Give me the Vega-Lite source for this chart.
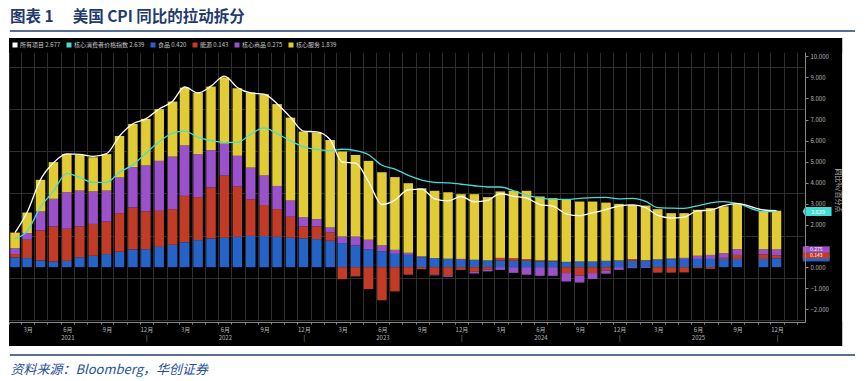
{
  "$schema": "https://vega.github.io/schema/vega-lite/v6.json",
  "width": 796,
  "height": 270,
  "autosize": {"type": "none"},
  "padding": {"left": 9, "top": 52, "right": 60, "bottom": 59},
  "background": "#ffffff",
  "title": {"text": "图表 1\u00a0\u3000美国 CPI 同比的拉动拆分", "anchor": "start", "frame": "group", "font": "Noto Sans CJK SC", "fontSize": 15.5, "fontWeight": "bold", "color": "#1f3a6e", "offset": 5, "dx": 1},
  "data": {
    "format": {"parse": {"d": "date"}},
    "values": [
      {"d": "2021-02-15", "food": 0.46, "energy": 0.16, "goods": 0.28, "services": 0.74, "cpi": 1.64, "core": 1.35},
      {"d": "2021-03-15", "food": 0.43, "energy": 0.87, "goods": 0.31, "services": 0.98, "cpi": 2.6, "core": 1.7},
      {"d": "2021-04-15", "food": 0.32, "energy": 1.42, "goods": 0.90, "services": 1.50, "cpi": 4.15, "core": 2.85},
      {"d": "2021-05-15", "food": 0.27, "energy": 1.66, "goods": 1.31, "services": 1.74, "cpi": 4.95, "core": 3.6},
      {"d": "2021-06-15", "food": 0.30, "energy": 1.52, "goods": 1.73, "services": 1.82, "cpi": 5.37, "core": 4.45},
      {"d": "2021-07-15", "food": 0.47, "energy": 1.46, "goods": 1.70, "services": 1.69, "cpi": 5.35, "core": 4.25},
      {"d": "2021-08-15", "food": 0.54, "energy": 1.51, "goods": 1.54, "services": 1.62, "cpi": 5.25, "core": 4.02},
      {"d": "2021-09-15", "food": 0.62, "energy": 1.54, "goods": 1.47, "services": 1.73, "cpi": 5.38, "core": 4.02},
      {"d": "2021-10-15", "food": 0.73, "energy": 1.83, "goods": 1.69, "services": 1.97, "cpi": 6.22, "core": 4.5},
      {"d": "2021-11-15", "food": 0.84, "energy": 1.99, "goods": 1.91, "services": 2.05, "cpi": 6.8, "core": 4.85},
      {"d": "2021-12-15", "food": 0.85, "energy": 1.79, "goods": 2.18, "services": 2.21, "cpi": 7.03, "core": 5.4},
      {"d": "2022-01-15", "food": 0.96, "energy": 1.71, "goods": 2.37, "services": 2.45, "cpi": 7.5, "core": 5.95},
      {"d": "2022-02-15", "food": 1.06, "energy": 1.69, "goods": 2.49, "services": 2.61, "cpi": 7.87, "core": 6.35},
      {"d": "2022-03-15", "food": 1.18, "energy": 2.20, "goods": 2.39, "services": 2.74, "cpi": 8.54, "core": 6.45},
      {"d": "2022-04-15", "food": 1.28, "energy": 2.04, "goods": 2.04, "services": 2.92, "cpi": 8.26, "core": 6.15},
      {"d": "2022-05-15", "food": 1.36, "energy": 2.42, "goods": 1.77, "services": 3.01, "cpi": 8.58, "core": 6.0},
      {"d": "2022-06-15", "food": 1.39, "energy": 2.95, "goods": 1.51, "services": 3.15, "cpi": 9.06, "core": 5.92},
      {"d": "2022-07-15", "food": 1.44, "energy": 2.38, "goods": 1.46, "services": 3.20, "cpi": 8.52, "core": 5.92},
      {"d": "2022-08-15", "food": 1.48, "energy": 1.74, "goods": 1.50, "services": 3.56, "cpi": 8.26, "core": 6.3},
      {"d": "2022-09-15", "food": 1.48, "energy": 1.47, "goods": 1.39, "services": 3.86, "cpi": 8.2, "core": 6.6},
      {"d": "2022-10-15", "food": 1.44, "energy": 1.31, "goods": 1.10, "services": 3.88, "cpi": 7.75, "core": 6.33},
      {"d": "2022-11-15", "food": 1.39, "energy": 1.00, "goods": 0.77, "services": 3.93, "cpi": 7.11, "core": 5.99},
      {"d": "2022-12-15", "food": 1.37, "energy": 0.56, "goods": 0.44, "services": 4.06, "cpi": 6.45, "core": 5.7},
      {"d": "2023-01-15", "food": 1.33, "energy": 0.60, "goods": 0.34, "services": 4.11, "cpi": 6.41, "core": 5.58},
      {"d": "2023-02-15", "food": 1.25, "energy": 0.39, "goods": 0.24, "services": 4.15, "cpi": 6.04, "core": 5.52},
      {"d": "2023-03-15", "food": 1.14, "energy": -0.57, "goods": 0.31, "services": 4.03, "cpi": 4.98, "core": 5.59},
      {"d": "2023-04-15", "food": 1.03, "energy": -0.44, "goods": 0.42, "services": 3.87, "cpi": 4.93, "core": 5.52},
      {"d": "2023-05-15", "food": 0.85, "energy": -1.04, "goods": 0.45, "services": 3.74, "cpi": 4.05, "core": 5.33},
      {"d": "2023-06-15", "food": 0.74, "energy": -1.57, "goods": 0.29, "services": 3.47, "cpi": 2.97, "core": 4.83},
      {"d": "2023-07-15", "food": 0.63, "energy": -1.15, "goods": 0.19, "services": 3.45, "cpi": 3.18, "core": 4.65},
      {"d": "2023-08-15", "food": 0.58, "energy": -0.36, "goods": 0.10, "services": 3.30, "cpi": 3.67, "core": 4.35},
      {"d": "2023-09-15", "food": 0.47, "energy": -0.10, "goods": 0.05, "services": 3.22, "cpi": 3.7, "core": 4.13},
      {"d": "2023-10-15", "food": 0.43, "energy": -0.36, "goods": -0.03, "services": 3.19, "cpi": 3.24, "core": 4.02},
      {"d": "2023-11-15", "food": 0.40, "energy": -0.41, "goods": -0.05, "services": 3.15, "cpi": 3.14, "core": 4.0},
      {"d": "2023-12-15", "food": 0.35, "energy": -0.13, "goods": 0.04, "services": 3.07, "cpi": 3.35, "core": 3.93},
      {"d": "2024-01-15", "food": 0.35, "energy": -0.22, "goods": -0.08, "services": 3.11, "cpi": 3.1, "core": 3.86},
      {"d": "2024-02-15", "food": 0.32, "energy": -0.12, "goods": -0.08, "services": 3.00, "cpi": 3.17, "core": 3.8},
      {"d": "2024-03-15", "food": 0.32, "energy": 0.12, "goods": -0.13, "services": 3.15, "cpi": 3.48, "core": 3.8},
      {"d": "2024-04-15", "food": 0.30, "energy": 0.12, "goods": -0.27, "services": 3.20, "cpi": 3.36, "core": 3.62},
      {"d": "2024-05-15", "food": 0.30, "energy": 0.08, "goods": -0.36, "services": 3.24, "cpi": 3.27, "core": 3.41},
      {"d": "2024-06-15", "food": 0.28, "energy": 0.05, "goods": -0.41, "services": 3.02, "cpi": 2.97, "core": 3.28},
      {"d": "2024-07-15", "food": 0.28, "energy": 0.03, "goods": -0.41, "services": 2.96, "cpi": 2.89, "core": 3.21},
      {"d": "2024-08-15", "food": 0.25, "energy": -0.28, "goods": -0.40, "services": 2.94, "cpi": 2.53, "core": 3.21},
      {"d": "2024-09-15", "food": 0.27, "energy": -0.40, "goods": -0.33, "services": 2.84, "cpi": 2.44, "core": 3.26},
      {"d": "2024-10-15", "food": 0.27, "energy": -0.28, "goods": -0.28, "services": 2.84, "cpi": 2.58, "core": 3.3},
      {"d": "2024-11-15", "food": 0.30, "energy": -0.15, "goods": -0.16, "services": 2.76, "cpi": 2.73, "core": 3.31},
      {"d": "2024-12-15", "food": 0.30, "energy": 0.02, "goods": -0.13, "services": 2.68, "cpi": 2.89, "core": 3.24},
      {"d": "2025-01-15", "food": 0.30, "energy": 0.08, "goods": -0.05, "services": 2.57, "cpi": 2.95, "core": 3.26},
      {"d": "2025-02-15", "food": 0.30, "energy": 0.03, "goods": -0.04, "services": 2.59, "cpi": 2.82, "core": 3.12},
      {"d": "2025-03-15", "food": 0.35, "energy": -0.26, "goods": 0.02, "services": 2.38, "cpi": 2.45, "core": 2.82},
      {"d": "2025-04-15", "food": 0.38, "energy": -0.26, "goods": 0.03, "services": 2.15, "cpi": 2.33, "core": 2.8},
      {"d": "2025-05-15", "food": 0.39, "energy": -0.25, "goods": 0.05, "services": 2.12, "cpi": 2.37, "core": 2.79},
      {"d": "2025-06-15", "food": 0.39, "energy": -0.05, "goods": 0.15, "services": 2.18, "cpi": 2.67, "core": 2.91},
      {"d": "2025-07-15", "food": 0.39, "energy": -0.08, "goods": 0.19, "services": 2.22, "cpi": 2.7, "core": 3.05},
      {"d": "2025-08-15", "food": 0.39, "energy": 0.05, "goods": 0.22, "services": 2.22, "cpi": 2.92, "core": 3.11},
      {"d": "2025-09-15", "food": 0.39, "energy": 0.19, "goods": 0.27, "services": 2.14, "cpi": 3.01, "core": 3.02},
      {"d": "2025-11-15", "food": 0.39, "energy": 0.22, "goods": 0.24, "services": 1.82, "cpi": 2.71, "core": 2.63},
      {"d": "2025-12-15", "food": 0.420, "energy": 0.143, "goods": 0.275, "services": 1.839, "cpi": 2.677, "core": 2.639}
    ]
  },
  "resolve": {"scale": {"x": "independent", "y": "independent"}, "axis": {"x": "independent", "y": "independent"}},
  "layer": [
    {
      "data": {"values": [{}]},
      "layer": [
        {
          "mark": {"type": "rect", "color": "#000000"},
          "encoding": {
            "x": {"datum": {"year": 2021, "month": 2, "date": 1}, "type": "temporal",
                  "scale": {"domain": [{"year": 2021, "month": 2, "date": 1}, {"year": 2026, "month": 2, "date": 19}], "nice": false, "padding": 0},
                  "axis": {"orient": "bottom", "grid": true, "gridColor": "#2e2e2e", "gridWidth": 1, "labels": false, "ticks": false, "domain": false, "title": null, "tickCount": {"interval": "month", "step": 1}, "zindex": 0}},
            "x2": {"datum": {"year": 2026, "month": 5, "date": 16}},
            "y": {"datum": 10.863, "type": "quantitative",
                  "scale": {"domain": [-2.6, 10.2], "nice": false, "zero": false, "padding": 0},
                  "axis": {"orient": "right", "grid": true, "gridColor": "#2e2e2e", "gridWidth": 1, "labels": false, "ticks": false, "domain": false, "title": null, "values": [-2.5, -2, -1.5, -1, -0.5, 0, 0.5, 1, 1.5, 2, 2.5, 3, 3.5, 4, 4.5, 5, 5.5, 6, 6.5, 7, 7.5, 8, 8.5, 9, 9.5, 10], "zindex": 0}},
            "y2": {"datum": 10.17}
          }
        },
        {
          "mark": {"type": "rect", "color": "#000000"},
          "encoding": {
            "x": {"datum": {"year": 2026, "month": 2, "date": 18}, "type": "temporal"},
            "x2": {"datum": {"year": 2026, "month": 5, "date": 16}},
            "y": {"datum": 10.863, "type": "quantitative"},
            "y2": {"datum": -3.741}
          }
        },
        {
          "mark": {"type": "rect", "color": "#000000"},
          "encoding": {
            "x": {"datum": {"year": 2021, "month": 2, "date": 1}, "type": "temporal"},
            "x2": {"datum": {"year": 2026, "month": 5, "date": 16}},
            "y": {"datum": -2.57, "type": "quantitative"},
            "y2": {"datum": -3.741}
          }
        },
        {
          "mark": {"type": "rule", "color": "#1f3f73", "strokeWidth": 1.5},
          "encoding": {
            "x": {"datum": {"year": 2021, "month": 2, "date": 3}, "type": "temporal"},
            "x2": {"datum": {"year": 2026, "month": 6, "date": 15}},
            "y": {"datum": 11.195, "type": "quantitative"}
          }
        },
        {
          "mark": {"type": "rule", "color": "#1f3f73", "strokeWidth": 1.5},
          "encoding": {
            "x": {"datum": {"year": 2021, "month": 2, "date": 3}, "type": "temporal"},
            "x2": {"datum": {"year": 2026, "month": 6, "date": 15}},
            "y": {"datum": -4.168, "type": "quantitative"}
          }
        }
      ]
    },
    {
      "layer": [
        {
          "transform": [
            {"fold": ["food", "energy", "goods", "services"], "as": ["series", "value"]},
            {"calculate": "indexof(['food','energy','goods','services'], datum.series)", "as": "ord"}
          ],
          "mark": {"type": "bar", "width": 9.5},
          "encoding": {
            "x": {"field": "d", "type": "temporal",
                  "scale": {"domain": [{"year": 2021, "month": 2, "date": 1}, {"year": 2026, "month": 2, "date": 19}], "nice": false, "padding": 0},
                  "axis": {"orient": "bottom", "grid": false, "tickCount": {"interval": "month", "step": 1},
                           "labelExpr": "year(datum.value) > 2025 ? '' : month(datum.value)==5 ? ['6月', timeFormat(datum.value, '%Y')] : month(datum.value)==11 ? ['12月', '|'] : month(datum.value)==2 ? '3月' : month(datum.value)==8 ? '9月' : ''",
                           "labelOffset": 6.5, "labelFlush": false, "labelOverlap": false, "labelFontSize": 6, "labelColor": "#b8b8b8", "labelLineHeight": 8, "labelPadding": 2, "labelFont": "Noto Sans CJK SC",
                           "ticks": true, "tickSize": 2, "tickColor": "#8a8a8a", "domain": true, "domainColor": "#8a8a8a",
                           "title": "资料来源：Bloomberg，华创证券", "titleFont": "Noto Sans CJK SC", "titleFontStyle": "italic", "titleFontWeight": "normal", "titleColor": "#1f4f9c", "titleFontSize": 13,
                           "titleAnchor": "start", "titleAlign": "left", "titleBaseline": "middle", "titleX": 1, "titleY": 47, "zindex": 1}},
            "y": {"field": "value", "type": "quantitative", "stack": "zero",
                  "scale": {"domain": [-2.6, 10.2], "nice": false, "zero": false, "padding": 0},
                  "axis": {"orient": "right", "grid": false, "values": [-2, 0, 2, 4, 6, 8, 10],
                           "format": ".3f", "labelOverlap": false, "labelFlush": false,
                           "labelFontSize": 6, "labelColor": "#b8b8b8", "labelPadding": 2, "labelFont": "Noto Sans CJK SC",
                           "tickSize": 3, "tickColor": "#8a8a8a", "domain": true, "domainColor": "#8a8a8a",
                           "title": "同比%/百分点", "titleColor": "#b8b8b8", "titleFontSize": 7, "titleFont": "Noto Sans CJK SC", "titleFontWeight": "normal",
                           "titleAngle": 90, "titleX": 32, "titleY": 138, "titleAlign": "center", "titleBaseline": "middle", "zindex": 1}},
            "color": {"field": "series", "type": "nominal",
                      "scale": {"domain": ["cpi", "core", "food", "energy", "goods", "services"], "range": ["#ffffff", "#45dcd6", "#2563c9", "#c23b26", "#9b51c9", "#e2cc35"]},
                      "legend": {"orient": "none", "legendX": 3, "legendY": -10, "direction": "horizontal", "title": null,
                                 "symbolType": "square", "symbolSize": 25, "symbolStrokeWidth": 0, "labelFontSize": 6, "labelColor": "#c8c8c8", "labelFont": "Noto Sans CJK SC",
                                 "columnPadding": 5, "labelOffset": 2, "padding": 0,
                                 "labelExpr": "datum.label == 'cpi' ? '所有项目 2.677' : datum.label == 'core' ? '核心消费者价格指数 2.639' : datum.label == 'food' ? '食品 0.420' : datum.label == 'energy' ? '能源 0.143' : datum.label == 'goods' ? '核心商品 0.275' : '核心服务 1.839'"}},
            "order": {"field": "ord", "type": "quantitative"}
          }
        },
        {
          "transform": [{"fold": ["core", "cpi"], "as": ["series", "value"]}],
          "mark": {"type": "line", "interpolate": "monotone", "strokeWidth": 1.3},
          "encoding": {
            "x": {"field": "d", "type": "temporal"},
            "y": {"field": "value", "type": "quantitative"},
            "color": {"field": "series", "type": "nominal", "legend": null}
          }
        },
        {
          "transform": [
            {"filter": "year(datum.d) == 2025 && month(datum.d) == 11"},
            {"fold": ["food", "energy", "goods"], "as": ["series", "value"]},
            {"calculate": "indexof(['food','energy','goods'], datum.series)", "as": "ord"},
            {"stack": "value", "groupby": ["d"], "sort": [{"field": "ord", "order": "ascending"}], "as": ["v0", "v1"]}
          ],
          "mark": {"type": "point", "shape": "M-1,-0.23H1V0.23H-1Z", "size": 729, "filled": true, "opacity": 1, "strokeWidth": 0},
          "encoding": {
            "x": {"datum": {"year": 2026, "month": 3, "date": 17}, "type": "temporal"},
            "y": {"field": "v1", "type": "quantitative"},
            "color": {"field": "series", "type": "nominal", "legend": null}
          }
        },
        {
          "transform": [
            {"filter": "year(datum.d) == 2025 && month(datum.d) == 11"},
            {"fold": ["food", "energy", "goods"], "as": ["series", "value"]},
            {"calculate": "indexof(['food','energy','goods'], datum.series)", "as": "ord"},
            {"stack": "value", "groupby": ["d"], "sort": [{"field": "ord", "order": "ascending"}], "as": ["v0", "v1"]},
            {"filter": "datum.series != 'food'"}
          ],
          "mark": {"type": "text", "fontSize": 5, "color": "#ffffff", "align": "center", "baseline": "middle", "font": "Noto Sans CJK SC"},
          "encoding": {
            "x": {"datum": {"year": 2026, "month": 3, "date": 17}, "type": "temporal"},
            "y": {"field": "v1", "type": "quantitative"},
            "text": {"field": "value", "type": "quantitative", "format": ".3f"}
          }
        },
        {
          "transform": [{"filter": "year(datum.d) == 2025 && month(datum.d) == 11"}],
          "mark": {"type": "point", "shape": "M-1,0L-0.82,-0.31L1,-0.31L1,0.31L-0.82,0.31Z", "size": 841, "filled": true, "fill": "#45dcd6", "opacity": 1, "strokeWidth": 0},
          "encoding": {
            "x": {"datum": {"year": 2026, "month": 3, "date": 19}, "type": "temporal"},
            "y": {"field": "core", "type": "quantitative"}
          }
        },
        {
          "transform": [{"filter": "year(datum.d) == 2025 && month(datum.d) == 11"}],
          "mark": {"type": "text", "fontSize": 5.5, "color": "#ffffff", "align": "center", "baseline": "middle", "dx": 1, "dy": 0.5, "font": "Noto Sans CJK SC"},
          "encoding": {
            "x": {"datum": {"year": 2026, "month": 3, "date": 19}, "type": "temporal"},
            "y": {"field": "core", "type": "quantitative"},
            "text": {"field": "core", "type": "quantitative", "format": ".3f"}
          }
        }
      ]
    },
    {
      "data": {"values": [{}]},
      "mark": {"type": "point", "opacity": 0},
      "encoding": {
        "y": {"datum": 0, "type": "quantitative",
              "scale": {"domain": [-2.6, 10.2], "nice": false, "zero": false, "padding": 0},
              "axis": {"orient": "right", "grid": false, "values": [-1, 1, 3, 5, 7, 9],
                       "labelExpr": "datum.value == 1 ? '' : format(datum.value, '.3f')", "labelOverlap": false, "labelFlush": false,
                       "labelFontSize": 6, "labelColor": "#b8b8b8", "labelPadding": 2, "labelFont": "Noto Sans CJK SC",
                       "tickSize": 3, "tickColor": "#8a8a8a", "domain": false, "title": null, "zindex": 1}}
      }
    }
  ],
  "config": {
    "view": {"fill": "#000000", "stroke": null},
    "font": "Noto Sans CJK SC",
    "axis": {"labelOverlap": false}
  }
}
